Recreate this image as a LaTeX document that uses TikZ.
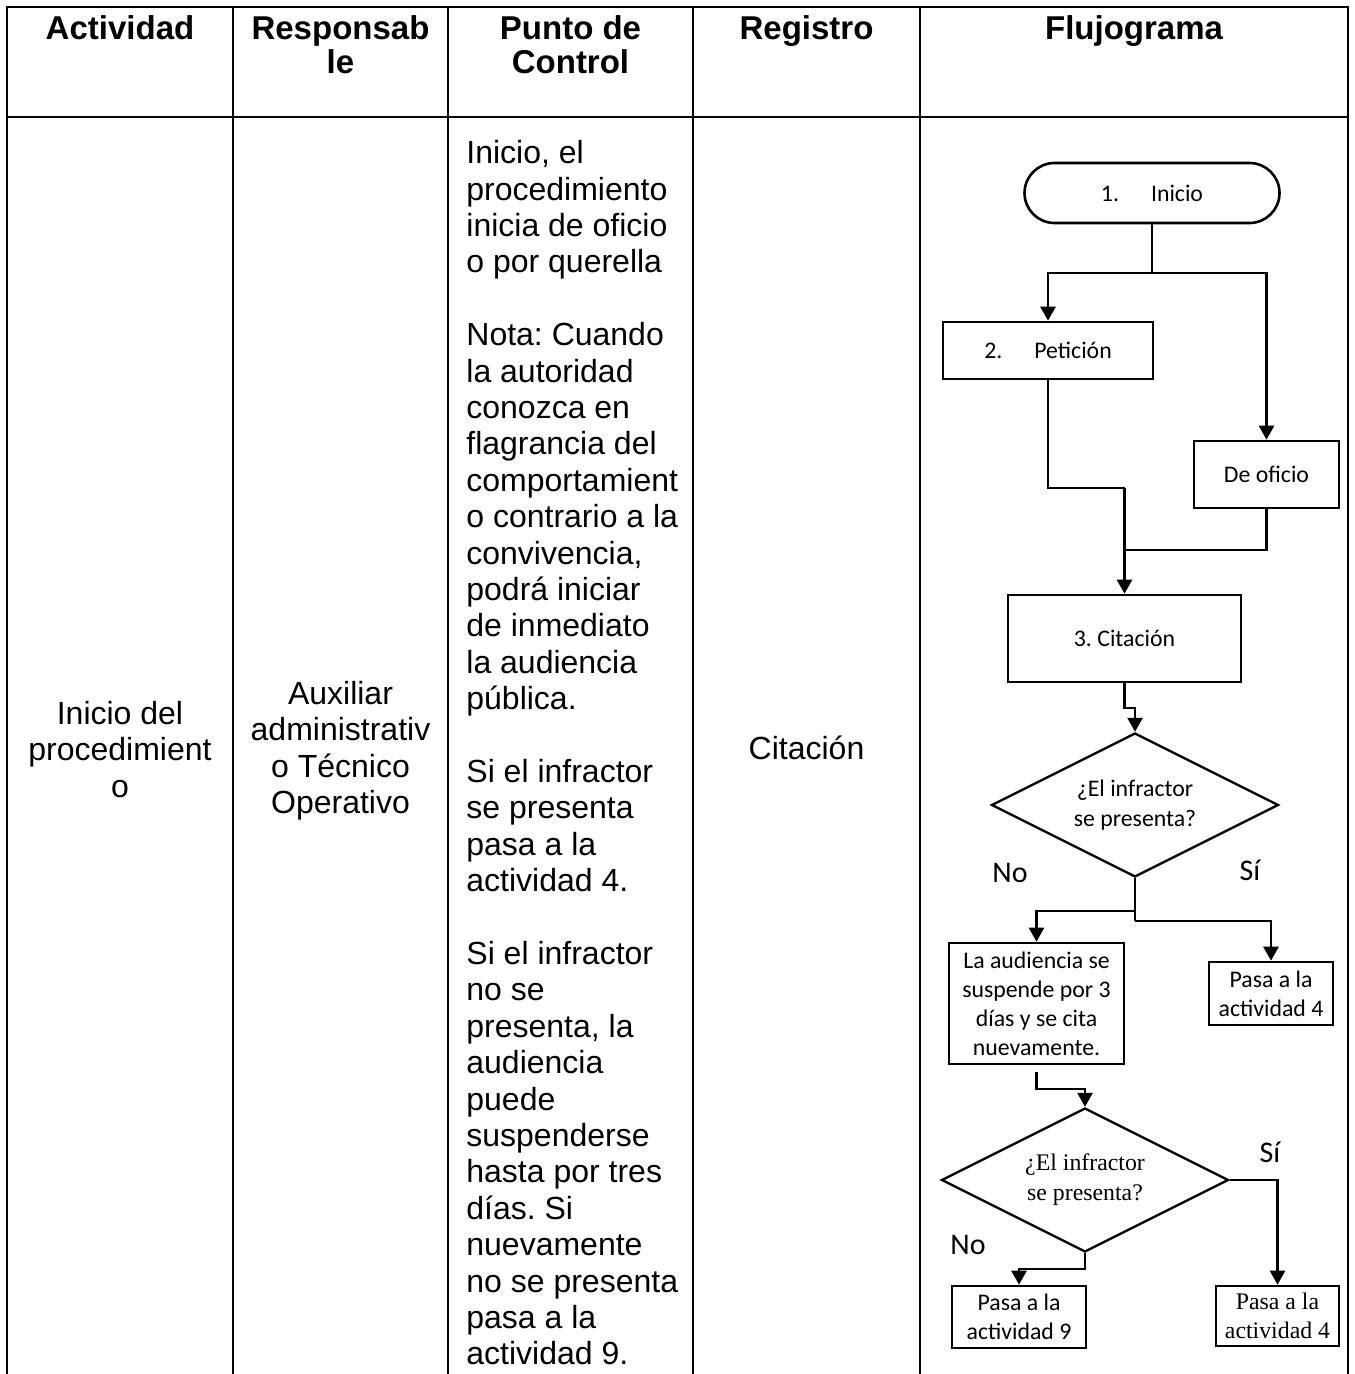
\documentclass[tikz,border=0pt]{standalone}
\usepackage{fontspec}
\setmainfont{Liberation Sans}
\newfontfamily\calibrifont{Carlito}
\newfontfamily\timesfont{Liberation Serif}
\usepackage{tikz}
\usetikzlibrary{shapes.geometric,arrows.meta}
\frenchspacing

\begin{document}
\begin{tikzpicture}[x=0.5pt,y=-0.5pt,
  linea/.style={line width=1.3pt},
  flecha/.style={line width=1.3pt,-{Triangle[length=7pt,width=7.5pt]}},
  caja/.style={draw,line width=1.3pt,inner sep=0pt,align=center,font=\calibrifont\fontsize{11.9}{14.5}\selectfont},
  rombo/.style={draw,diamond,shape aspect=2,line width=1.2pt,inner sep=0pt,minimum width=143.5pt,minimum height=72pt,align=center},
  etiqueta/.style={inner sep=0pt,font=\calibrifont\fontsize{15}{18}\selectfont},
  cabecera/.style={anchor=north,inner sep=0pt,align=center,font=\bfseries\fontsize{16.5}{17}\selectfont},
  cuerpo/.style={anchor=north,inner sep=0pt,align=center,font=\fontsize{16}{18.2}\selectfont}]

\useasboundingbox (0,0) rectangle (1354,1374);

% table frame
\draw[linea] (7,1374) -- (7,7) -- (1348,7) -- (1348,1374);
\draw[linea] (7,117) -- (1348,117);
\foreach \x in {233,448,693,920}
  \draw[linea] (\x,7) -- (\x,1374);

% headers
\node[cabecera] (hact) at (120,15) {Actividad};
\node[cabecera] (hresp) at (340.5,15) {Responsab\\le};
\node[cabecera] (hpunto) at (570.5,15) {Punto de\\Control};
\node[cabecera] (hreg) at (806.5,15) {Registro};
\node[cabecera] (hflujo) at (1134,15) {Flujograma};

% row
\node[cuerpo] (act) at (120,701) {Inicio del\\procedimient\\o};
\node[cuerpo] (resp) at (340.5,681) {Auxiliar\\administrativ\\o Técnico\\Operativo};
\node[cuerpo,align=left,anchor=north west] (punto) at (466,140) {Inicio, el\\procedimiento\\inicia de oficio\\o por querella\\[18.2pt]
Nota: Cuando\\la autoridad\\conozca en\\flagrancia del\\comportamient\\o contrario a la\\convivencia,\\podrá iniciar\\de inmediato\\la audiencia\\pública.\\[18.2pt]
Si el infractor\\se presenta\\pasa a la\\actividad 4.\\[18.2pt]
Si el infractor\\no se\\presenta, la\\audiencia\\puede\\suspenderse\\hasta por tres\\días. Si\\nuevamente\\no se presenta\\pasa a la\\actividad 9.};
\node[cuerpo] (reg) at (806.5,736) {Citación};

% flujograma
\node[caja,rounded corners=15pt,minimum width=127.5pt,minimum height=30pt] (inicio) at (1152,193) {1.\hspace{16pt}Inicio};
\node[caja,minimum width=105pt,minimum height=28.5pt] (peticion) at (1048,350.5) {2.\hspace{16pt}Petición};
\node[caja,minimum width=72.5pt,minimum height=33.5pt] (oficio) at (1266.5,474.5) {De oficio};
\node[caja,minimum width=116.5pt,minimum height=43.5pt] (citacion) at (1124.5,638.5) {3. Citación};
\node[rombo,font=\calibrifont\fontsize{11.9}{15}\selectfont] (dec1) at (1135,805) {¿El infractor\\se presenta?};
\node[etiqueta] (no1) at (1010,873) {No};
\node[etiqueta] (si1) at (1250,870) {Sí};
\node[caja,minimum width=87.5pt,minimum height=60.5pt] (suspende) at (1036.5,1003.5) {La audiencia se\\suspende por 3\\días y se cita\\nuevamente.};
\node[caja,minimum width=62pt,minimum height=31.5pt] (pasaA) at (1271,993.5) {Pasa a la\\actividad 4};
\node[rombo,font=\timesfont\fontsize{11.9}{15}\selectfont] (dec2) at (1085,1180) {¿El infractor\\se presenta?};
\node[etiqueta] (si2) at (1270,1152) {Sí};
\node[etiqueta] (no2) at (968,1245) {No};
\node[caja,minimum width=67pt,minimum height=31pt] (pasaB) at (1019,1317) {Pasa a la\\actividad 9};
\node[caja,font=\timesfont\fontsize{11.9}{14.5}\selectfont,minimum width=61.5pt,minimum height=30pt] (pasaC) at (1277.5,1316) {Pasa a la\\actividad 4};

% connectors
\coordinate (r1) at (1152,273);
\draw[linea] (inicio) -- (r1);
\draw[flecha] (r1) -| (peticion);
\draw[flecha] (r1) -| (oficio);

\coordinate (r2) at (1124.5,488);
\coordinate (r3) at (1124.5,550);
\draw[linea] (peticion) |- (r2);
\draw[linea] (oficio) |- (r3);
\draw[flecha] (r2) -- (citacion);

\coordinate (r4) at (1124.5,708);
\draw[flecha] (citacion) -- (r4) -| (dec1);

\coordinate (r5) at (1135,911);
\coordinate (r6) at (1135,921);
\draw[linea] (dec1) -- (r6);
\draw[flecha] (r5) -| (suspende);
\draw[flecha] (r6) -| (pasaA);

\coordinate (r7) at (1036.5,1072);
\coordinate (r8) at (1036.5,1089);
\draw[flecha] (r7) -- (r8) -| (dec2);

\draw[flecha] (dec2.east) -| (pasaC);
\coordinate (r9) at (1085,1269);
\draw[flecha] (dec2) -- (r9) -| (pasaB);
\end{tikzpicture}
\end{document}
